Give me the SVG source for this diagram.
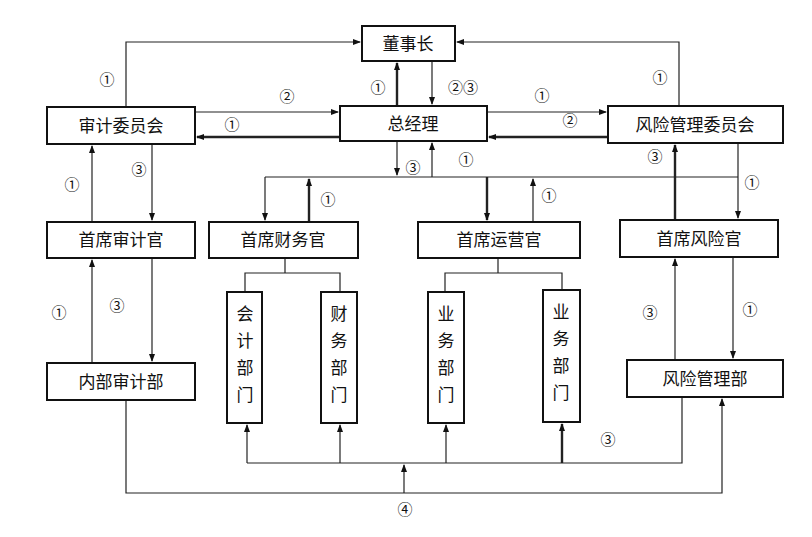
<svg xmlns="http://www.w3.org/2000/svg" width="812" height="537" viewBox="0 0 812 537">
<style>
.b{fill:#fff;stroke:#111;stroke-width:2}
.t{font-family:"Noto Sans CJK SC","Liberation Sans",sans-serif;font-size:17px;fill:#111;text-anchor:middle}
.n{font-family:"Noto Sans CJK SC","DejaVu Sans",sans-serif;font-size:15px;fill:#111;text-anchor:middle}
.c{fill:none;stroke:#222;stroke-width:1.2}
.k{stroke-width:2.4}
</style>
<defs><marker id="a" markerWidth="8" markerHeight="8" refX="7" refY="4" orient="auto" markerUnits="userSpaceOnUse"><path d="M0,1 L8,4 L0,7z" fill="#111"/></marker></defs>
<rect width="812" height="537" fill="#fff"/>
<g id="connectors">
<path class="c" d="M126,107 V42 H360" marker-end="url(#a)"/>
<path class="c" d="M679,106 V42 H457" marker-end="url(#a)"/>
<path class="c k" d="M397,106 V63" marker-end="url(#a)"/>
<path class="c" d="M432,61 V104" marker-end="url(#a)"/>
<path class="c" d="M195,112 H338" marker-end="url(#a)"/>
<path class="c k" d="M340,137 H197" marker-end="url(#a)"/>
<path class="c" d="M487,112 H606" marker-end="url(#a)"/>
<path class="c k" d="M608,137 H489" marker-end="url(#a)"/>
<path class="c" d="M265,177 H738"/>
<path class="c" d="M397,141 V175" marker-end="url(#a)"/>
<path class="c" d="M432,177 V143" marker-end="url(#a)"/>
<path class="c" d="M265,177 V220" marker-end="url(#a)"/>
<path class="c k" d="M309,222 V179" marker-end="url(#a)"/>
<path class="c k" d="M487,177 V220" marker-end="url(#a)"/>
<path class="c" d="M533,222 V179" marker-end="url(#a)"/>
<path class="c" d="M738,143 V218" marker-end="url(#a)"/>
<path class="c k" d="M675,220 V145" marker-end="url(#a)"/>
<path class="c" d="M92,222 V146" marker-end="url(#a)"/>
<path class="c" d="M152,144 V220" marker-end="url(#a)"/>
<path class="c" d="M92,363 V260" marker-end="url(#a)"/>
<path class="c" d="M152,258 V361" marker-end="url(#a)"/>
<path class="c" d="M675,360 V259" marker-end="url(#a)"/>
<path class="c" d="M733,257 V358" marker-end="url(#a)"/>
<path class="c" d="M285,258 V273 M245,292 V273 H340 V292"/>
<path class="c" d="M498,258 V273 M445,292 V273 H562 V290"/>
<path class="c" d="M682,397 V463 H247"/>
<path class="c" d="M247,463 V425" marker-end="url(#a)"/>
<path class="c" d="M340,463 V425" marker-end="url(#a)"/>
<path class="c" d="M446,463 V425" marker-end="url(#a)"/>
<path class="c k" d="M562,463 V424" marker-end="url(#a)"/>
<path class="c" d="M126,400 V493 H722 V399" marker-end="url(#a)"/>
<path class="c" d="M404,493 V465" marker-end="url(#a)"/>
<g class="n">
<text x="107" y="85">①</text><text x="660" y="83">①</text>
<text x="378" y="93">①</text><text x="463" y="93">②③</text>
<text x="287" y="102">②</text><text x="232" y="130">①</text>
<text x="542" y="101">①</text><text x="570" y="126">②</text>
<text x="413" y="173">③</text><text x="466" y="165">①</text>
<text x="328" y="205">①</text><text x="549" y="201">①</text>
<text x="752" y="188">①</text><text x="655" y="162">③</text>
<text x="72" y="190">①</text><text x="139" y="175">③</text>
<text x="59" y="318">①</text><text x="117" y="311">③</text>
<text x="650" y="318">③</text><text x="750" y="315">①</text>
<text x="608" y="445">③</text><text x="405" y="515">④</text>
</g>
</g>
<g id="n1"><rect class="b" x="362" y="26" width="93" height="35"/><text class="t" x="408" y="50">董事长</text></g>
<g id="n2"><rect class="b" x="47" y="107" width="148" height="37"/><text class="t" x="121" y="132">审计委员会</text></g>
<g id="n3"><rect class="b" x="340" y="106" width="147" height="35"/><text class="t" x="413" y="130">总经理</text></g>
<g id="n4"><rect class="b" x="608" y="106" width="175" height="37"/><text class="t" x="695" y="131">风险管理委员会</text></g>
<g id="n5"><rect class="b" x="47" y="222" width="148" height="36"/><text class="t" x="121" y="246">首席审计官</text></g>
<g id="n6"><rect class="b" x="209" y="222" width="149" height="36"/><text class="t" x="283" y="246">首席财务官</text></g>
<g id="n7"><rect class="b" x="418" y="222" width="162" height="36"/><text class="t" x="499" y="246">首席运营官</text></g>
<g id="n8"><rect class="b" x="620" y="220" width="158" height="37"/><text class="t" x="699" y="245">首席风险官</text></g>
<g id="n9"><rect class="b" x="47" y="363" width="148" height="37"/><text class="t" x="121" y="388">内部审计部</text></g>
<g id="n10"><rect class="b" x="627" y="360" width="156" height="37"/><text class="t" x="705" y="385">风险管理部</text></g>
<g id="n11"><rect class="b" x="227" y="292" width="35" height="131"/><text class="t" x="245" y="320">会</text><text class="t" x="245" y="347">计</text><text class="t" x="245" y="374">部</text><text class="t" x="245" y="401">门</text></g>
<g id="n12"><rect class="b" x="321" y="292" width="36" height="131"/><text class="t" x="339" y="320">财</text><text class="t" x="339" y="347">务</text><text class="t" x="339" y="374">部</text><text class="t" x="339" y="401">门</text></g>
<g id="n13"><rect class="b" x="428" y="292" width="36" height="131"/><text class="t" x="446" y="320">业</text><text class="t" x="446" y="347">务</text><text class="t" x="446" y="374">部</text><text class="t" x="446" y="401">门</text></g>
<g id="n14"><rect class="b" x="543" y="290" width="37" height="132"/><text class="t" x="561" y="318">业</text><text class="t" x="561" y="345">务</text><text class="t" x="561" y="372">部</text><text class="t" x="561" y="399">门</text></g>
</svg>
